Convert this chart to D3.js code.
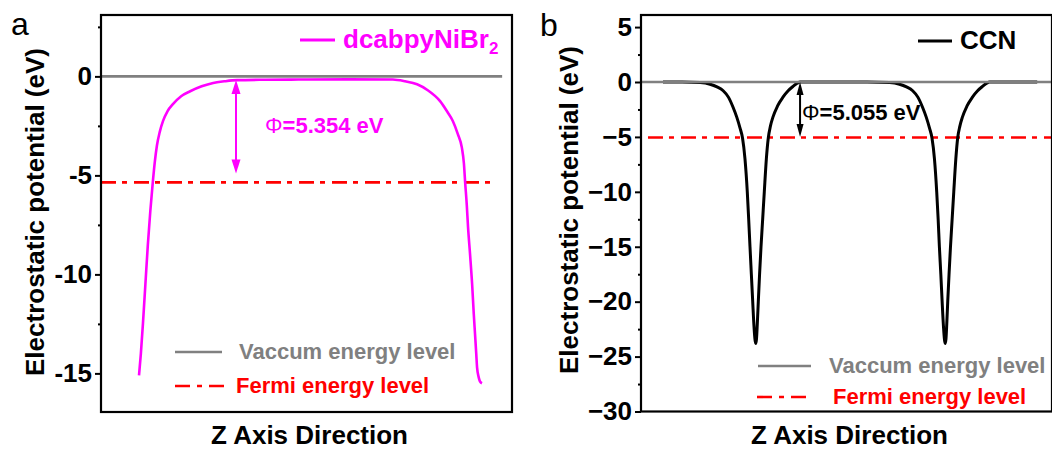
<!DOCTYPE html>
<html>
<head>
<meta charset="utf-8">
<script src="https://cdn.jsdelivr.net/npm/d3@7"></script>
<style>
  body { margin: 0; background: #fff; }
  svg { display: block; }
  text { font-family: Arial, "Liberation Sans", sans-serif; }
</style>
</head>
<body>
<svg id="chart" width="1052" height="450"></svg>
<script>
// ---- Panel a: dcabpyNiBr2 planar-averaged electrostatic potential ----
const zA = [9.25, 9.7, 10.2, 10.8, 11.4, 12.0, 12.6, 13.1, 13.6, 14.3, 15.1, 16.2, 17.5, 19.5, 21.7,
  24.5, 27.3, 30, 33.1, 40, 48, 60, 71, 74, 76.9, 79.5, 82.5, 84.3, 85.6, 86.8, 87.8, 88.3, 88.6,
  89.0, 89.3, 89.8, 90.3, 90.7, 91.0, 91.3, 91.5, 91.9, 92.2, 92.7];
const potentialA = [-15.1, -14.0, -12.5, -10.5, -8.5, -6.8, -5.35, -4.3, -3.5, -2.8, -2.25, -1.75, -1.4, -1.0, -0.75,
  -0.5, -0.33, -0.25, -0.19, -0.17, -0.16, -0.15, -0.16, -0.25, -0.4, -0.7, -1.25, -1.8, -2.25, -2.9, -3.6, -4.4, -5.35,
  -6.5, -7.6, -9.0, -10.5, -12.0, -13.0, -14.0, -14.7, -15.2, -15.4, -15.5];

// ---- Panel b: CCN planar-averaged electrostatic potential ----
const zB = [5.35, 10, 14.4, 16.8, 18.5, 20.0, 21.3, 22.4, 23.3, 24.1, 24.7, 25.3, 25.86, 26.2, 26.52, 26.85,
  27.18, 27.5, 27.75, 27.91, 28.1, 28.3, 28.54, 28.85, 29.2, 29.6, 30.0, 30.5, 30.97, 31.5, 32.1, 33.2, 34.5,
  35.8, 37.0, 38.0, 38.7, 45, 55, 60.5, 62.9, 64.6, 66.1, 67.4, 68.5, 69.4, 70.2, 70.8, 71.4, 71.95, 72.3,
  72.6, 72.95, 73.27, 73.6, 73.85, 74.0, 74.2, 74.4, 74.63, 74.95, 75.3, 75.7, 76.1, 76.6, 77.05, 77.6, 78.2,
  79.3, 80.6, 81.9, 83.1, 84.1, 84.8, 96.4];
const potentialB = [0, 0, -0.05, -0.2, -0.45, -0.8, -1.4, -2.3, -3.2, -4.2, -5.1, -7.0, -10, -12.5, -15, -17.5,
  -20, -22.3, -23.5, -23.8, -23.4, -22.0, -20, -17.5, -15, -12.5, -10, -7.0, -5.1, -4.0, -3.2, -2.2, -1.4,
  -0.8, -0.4, -0.12, 0, 0, 0, -0.05, -0.2, -0.45, -0.8, -1.4, -2.3, -3.2, -4.2, -5.1, -7.0, -10, -12.5,
  -15, -17.5, -20, -22.3, -23.5, -23.8, -23.4, -22.0, -20, -17.5, -15, -12.5, -10, -7.0, -5.1, -4.0, -3.2,
  -2.2, -1.4, -0.8, -0.4, -0.12, 0, 0];

// Reference levels (eV)
const vacuumA = 0, fermiA = -5.354;
const vacuumB = 0, fermiB = -5.055;
const vacuumSpanA = [0, 97.6], fermiSpanA = [0, 96.35];
const vacuumSpanB = [0, 100], fermiSpanB = [1.7, 100];

// Work-function arrows: position along z, top and bottom potential
const arrowA = { z: 32.85, top: -0.18, bottom: -4.9 };
const arrowB = { z: 38.7, top: 0, bottom: -5.0 };
const phiLabelA = "5.354 eV", phiLabelB = "5.055 eV";

// Axis ticks
const majorTicksA = [-15, -10, -5, 0];
const minorTicksA = [-12.5, -7.5, -2.5, 2.5];
const majorTicksB = [-30, -25, -20, -15, -10, -5, 0, 5];
const minorTicksB = [-27.5, -22.5, -17.5, -12.5, -7.5, -2.5, 2.5];

const svg = d3.select("#chart");
const MAGENTA = "#ff00ff", RED = "#ff0000", GRAY = "#808080";
const DASHDOT = "15,6,5,7";

function panel(cfg) {
  const x = d3.scaleLinear().domain([0, 100]).range(cfg.xRange);
  const y = d3.scaleLinear().domain(cfg.yDomain).range(cfg.yRange);
  const g = svg.append("g");

  const line = d3.line().x((d, i) => x(cfg.z[i])).y(d => y(d)).curve(d3.curveMonotoneX);

  // Fermi level
  g.append("line")
    .attr("x1", x(cfg.fermiSpan[0])).attr("x2", x(cfg.fermiSpan[1]))
    .attr("y1", y(cfg.fermi)).attr("y2", y(cfg.fermi))
    .attr("stroke", RED).attr("stroke-width", 2.6).attr("stroke-dasharray", DASHDOT);

  // potential curve
  g.append("path").datum(cfg.v).attr("d", line)
    .attr("fill", "none").attr("stroke", cfg.color).attr("stroke-width", cfg.curveWidth)
    .attr("stroke-linejoin", "round");

  // vacuum level
  g.append("line")
    .attr("x1", x(cfg.vacuumSpan[0])).attr("x2", x(cfg.vacuumSpan[1]))
    .attr("y1", y(cfg.vacuum)).attr("y2", y(cfg.vacuum))
    .attr("stroke", GRAY).attr("stroke-width", 2.6);

  // work function double arrow
  const ax = x(cfg.arrow.z), y1 = y(cfg.arrow.top), y2 = y(cfg.arrow.bottom);
  const hw = cfg.headW, hl = cfg.headL;
  g.append("line").attr("x1", ax).attr("x2", ax).attr("y1", y1 + hl * 0.6).attr("y2", y2 - hl * 0.6)
    .attr("stroke", cfg.arrowColor).attr("stroke-width", 2);
  g.append("path").attr("d", `M${ax},${y1} L${ax - hw},${y1 + hl} L${ax + hw},${y1 + hl} Z`).attr("fill", cfg.arrowColor);
  g.append("path").attr("d", `M${ax},${y2} L${ax - hw},${y2 - hl} L${ax + hw},${y2 - hl} Z`).attr("fill", cfg.arrowColor);

  const phi = g.append("text").attr("x", cfg.phiPos[0]).attr("y", cfg.phiPos[1])
    .attr("fill", cfg.arrowColor).attr("font-size", 22).attr("font-weight", "bold");
  phi.append("tspan").attr("font-weight", "normal").text("Φ");
  phi.append("tspan").text("=" + cfg.phiText);

  // frame
  g.append("rect")
    .attr("x", cfg.xRange[0]).attr("y", cfg.yRange[1])
    .attr("width", cfg.xRange[1] - cfg.xRange[0]).attr("height", cfg.yRange[0] - cfg.yRange[1])
    .attr("fill", "none").attr("stroke", "#000").attr("stroke-width", 2.2);

  // y axis
  const axG = g.append("g").attr("transform", `translate(${cfg.xRange[0]},0)`)
    .call(d3.axisLeft(y).tickValues(cfg.major).tickSize(6).tickPadding(3).tickFormat(cfg.fmt));
  axG.select(".domain").remove();
  axG.selectAll(".tick line").attr("stroke-width", 2);
  axG.selectAll(".tick text").attr("font-size", 26).attr("font-weight", "bold")
    .attr("font-family", "Arial, 'Liberation Sans', sans-serif").attr("fill", "#000");
  const mnG = g.append("g").attr("transform", `translate(${cfg.xRange[0]},0)`)
    .call(d3.axisLeft(y).tickValues(cfg.minor).tickSize(3).tickFormat(""));
  mnG.select(".domain").remove();
  mnG.selectAll(".tick line").attr("stroke-width", 2);

  // axis titles
  g.append("text").attr("transform", `translate(${cfg.yTitleX},${cfg.yTitleY}) rotate(-90)`)
    .attr("text-anchor", "middle").attr("font-size", 26).attr("font-weight", "bold")
    .text("Electrostatic potential (eV)");
  g.append("text").attr("x", (cfg.xRange[0] + cfg.xRange[1]) / 2 + 3).attr("y", 444)
    .attr("text-anchor", "middle").attr("font-size", 26).attr("font-weight", "bold")
    .text("Z Axis Direction");

  // panel letter
  g.append("text").attr("x", cfg.letterPos[0]).attr("y", cfg.letterPos[1])
    .attr("font-size", 32).text(cfg.letter);

  // legend: series
  const lg = cfg.legend;
  g.append("line").attr("x1", lg.series[0]).attr("x2", lg.series[1]).attr("y1", lg.series[2]).attr("y2", lg.series[2])
    .attr("stroke", cfg.color).attr("stroke-width", 3);
  const st = g.append("text").attr("x", lg.series[1] + 8).attr("y", lg.series[2] + 8)
    .attr("fill", cfg.color).attr("font-size", 26).attr("font-weight", "bold");
  cfg.seriesName.forEach(p => {
    const t = st.append("tspan").text(p.text);
    if (p.sub) t.attr("font-size", 17).attr("dy", 6);
  });

  // legend: levels
  g.append("line").attr("x1", lg.vac[0]).attr("x2", lg.vac[1]).attr("y1", lg.vac[2]).attr("y2", lg.vac[2])
    .attr("stroke", GRAY).attr("stroke-width", 2.6);
  g.append("text").attr("x", lg.vac[3]).attr("y", lg.vac[2] + 7).attr("fill", GRAY)
    .attr("font-size", 22).attr("font-weight", "bold").text("Vaccum energy level");
  g.append("line").attr("x1", lg.fer[0]).attr("x2", lg.fer[1]).attr("y1", lg.fer[2]).attr("y2", lg.fer[2])
    .attr("stroke", RED).attr("stroke-width", 2.6).attr("stroke-dasharray", "15,7,5,7");
  g.append("text").attr("x", lg.fer[3]).attr("y", lg.fer[2] + 7).attr("fill", RED)
    .attr("font-size", 22).attr("font-weight", "bold").text("Fermi energy level");
}

panel({
  xRange: [101, 512], yDomain: [-16.95, 3.1], yRange: [412, 15],
  z: zA, v: potentialA, color: MAGENTA, curveWidth: 2.6,
  vacuum: vacuumA, fermi: fermiA, vacuumSpan: vacuumSpanA, fermiSpan: fermiSpanA,
  arrow: arrowA, arrowColor: MAGENTA, headW: 4.5, headL: 14,
  phiText: phiLabelA, phiPos: [265, 133],
  major: majorTicksA, minor: minorTicksA, fmt: d => String(d),
  yTitleX: 44, yTitleY: 212, letter: "a", letterPos: [11, 35],
  seriesName: [{ text: "dcabpyNiBr" }, { text: "2", sub: true }],
  legend: { series: [300, 335, 40], vac: [175, 222, 352, 239], fer: [175, 226, 386, 236] }
});

panel({
  xRange: [641, 1052], yDomain: [-30, 6.1], yRange: [411.5, 15],
  z: zB, v: potentialB, color: "#000", curveWidth: 3,
  vacuum: vacuumB, fermi: fermiB, vacuumSpan: vacuumSpanB, fermiSpan: fermiSpanB,
  arrow: arrowB, arrowColor: "#000", headW: 3.5, headL: 13,
  phiText: phiLabelB, phiPos: [802, 120],
  major: majorTicksB, minor: minorTicksB, fmt: d3.format("d"),
  yTitleX: 578, yTitleY: 210, letter: "b", letterPos: [540, 36],
  seriesName: [{ text: "CCN" }],
  legend: { series: [918, 952, 41], vac: [758, 811, 366, 829], fer: [757, 811, 397, 833] }
});
</script>
</body>
</html>
